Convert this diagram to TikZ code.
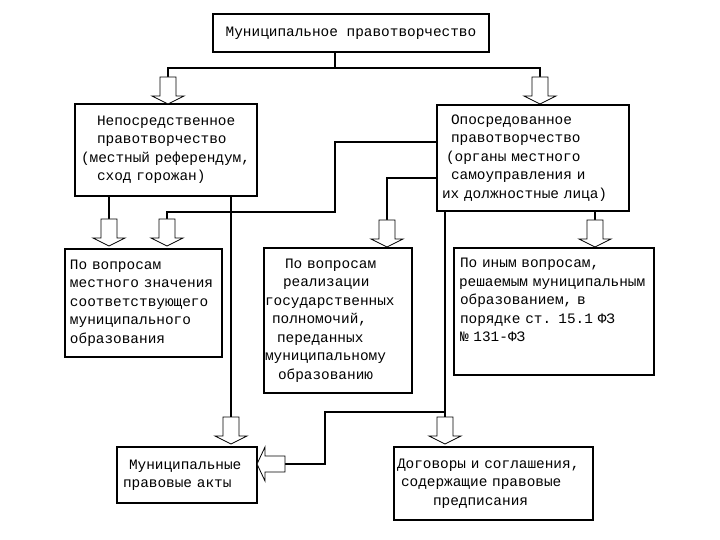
\documentclass[tikz,border=0pt]{standalone}
\usepackage{fontspec}
\setmainfont{Liberation Mono}
\usepackage{tikz}

\tikzset{
  dnarrow/.pic={\draw[line width=0.8bp, fill=white]
    (-8,0) -- (-8,19) -- (-16,19) -- (0,27) -- (16,19) -- (8,19) -- (8,0) -- cycle;},
  lfarrow/.pic={\draw[line width=0.8bp, fill=white]
    (0,-8) -- (-20,-8) -- (-20,-17) -- (-28,0) -- (-20,17) -- (-20,8) -- (0,8) -- cycle;}
}

\begin{document}
\begin{tikzpicture}[x=1bp, y=-1bp,
    box/.style={draw, line width=1.5bp, fill=white, inner sep=0pt, align=left,
      font=\fontsize{14.4bp}{18.5bp}\selectfont},
    link/.style={line width=1.2bp}]
    \useasboundingbox (0,0) rectangle (720,540);
    % boxes
    \node[box, align=center, minimum width=276bp, minimum height=38bp] (top) at (351,33)
      {Муниципальное правотворчество};
    \node[box, text width=182bp, minimum height=92bp] (dir) at (166,150)
      {\hspace*{22bp}Непосредственное\\ \hspace*{22bp}правотворчество\\
       \hspace*{6bp}(местный референдум,\\ \hspace*{22bp}сход горожан)};
    \node[box, text width=192bp, minimum height=106bp] (rep) at (533,158)
      {\hspace*{14bp}Опосредованное\\ \hspace*{14bp}правотворчество\\
       \hspace*{9bp}(органы местного\\ \hspace*{14bp}самоуправления и\\
       \hspace*{5bp}их должностные лица)};
    \node[box, text width=157bp, minimum height=108bp] (loc) at (143.5,303)
      {\hspace*{5bp}По вопросам\\ \hspace*{5bp}местного значения\\
       \hspace*{5bp}соответствующего\\ \hspace*{5bp}муниципального\\
       \hspace*{5bp}образования};
    \node[box, text width=148bp, minimum height=145bp] (state) at (338,320.5)
      {\hspace*{21bp}По вопросам\\ \hspace*{19bp}реализации\\
       \hspace*{1bp}государственных\\ \hspace*{8bp}полномочий,\\
       \hspace*{13bp}переданных\\ \hspace*{1bp}муниципальному\\
       \hspace*{14bp}образованию};
    \node[box, text width=200bp, minimum height=127bp] (other) at (554,311.5)
      {\hspace*{6bp}По иным вопросам,\\ \hspace*{5bp}решаемым муниципальным\\
       \hspace*{6bp}образованием, в\\ \hspace*{6bp}порядке ст. 15.1 ФЗ\\
       \hspace*{6bp}№ 131-ФЗ\\[4bp] \mbox{}};
    \node[box, text width=140bp, minimum height=56bp] (acts) at (187,475)
      {\hspace*{12bp}Муниципальные\\ \hspace*{6bp}правовые акты};
    \node[box, text width=199bp, minimum height=73bp] (agr) at (493.5,483.5)
      {\hspace*{3bp}Договоры и соглашения,\\ \hspace*{7bp}содержащие правовые\\
       \hspace*{39bp}предписания};
    % arrow tails and bends
    \coordinate (split) at (335,68);
    \coordinate (t1) at (168,77);
    \coordinate (t2) at (540,77);
    \coordinate (t3) at (109,219);
    \coordinate (t4) at (231,417);
    \coordinate (b1) at (335,212);
    \coordinate (t5) at (167,219);
    \coordinate (t6) at (387,220);
    \coordinate (t7) at (595,220);
    \coordinate (t8) at (445,417);
    \coordinate (b2) at (325,464);
    \coordinate (t9) at (285,464);
    % connectors
    \draw[link] (top.south -| split) -- (split);
    \draw[link] (t1) |- (split) -| (t2);
    \draw[link] (dir.south -| t3) -- (t3);
    \draw[link] (dir.south -| t4) -- (t4);
    \draw[link] ([yshift=16bp]rep.west) -| (b1) -| (t5);
    \draw[link] ([yshift=-20bp]rep.west) -| (t6);
    \draw[link] (rep.south -| t7) -- (t7);
    \draw[link] (rep.south -| t8) -- (t8);
    \draw[link] ([yshift=5bp]t8) -| (b2) -- (t9);
    % block arrows
    \foreach \p in {t1,t2,t3,t4,t5,t6,t7,t8}
      \pic at (\p) {dnarrow};
    \pic at (t9) {lfarrow};
  \end{tikzpicture}
\end{document}
